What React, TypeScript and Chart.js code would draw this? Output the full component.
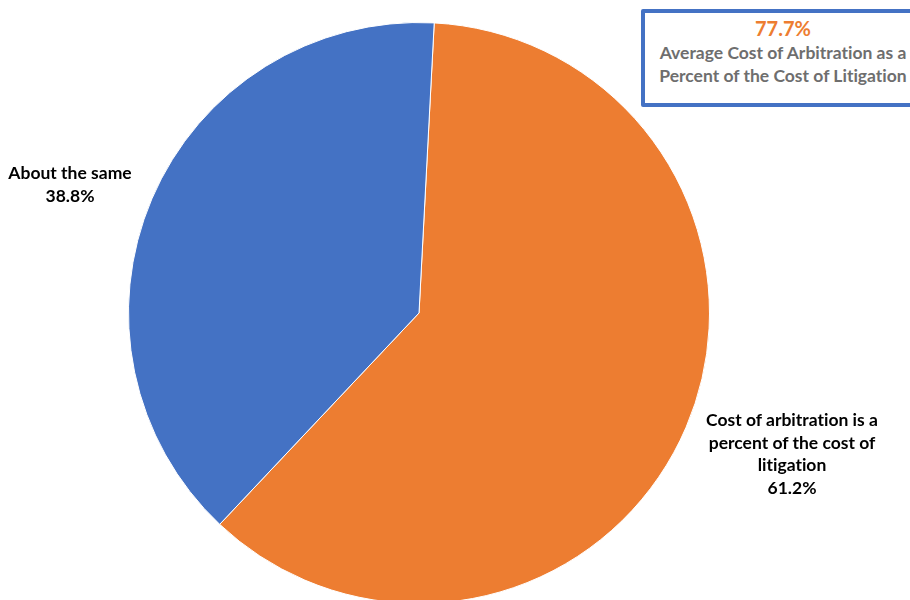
import React, { useEffect, useRef } from "react";
import { Chart, registerables } from "chart.js";

Chart.register(...registerables);

const categories = ["Cost of arbitration is a percent of the cost of litigation", "About the same"];
const values = [61.2, 38.8];
const colors = ["#ED7D31", "#4472C4"];
const calloutValue = "77.7%";
const calloutText = ["Average Cost of Arbitration as a", "Percent of the Cost of Litigation"];
const rightLabelLines = ["Cost of arbitration is a", "percent of the cost of", "litigation"];
const leftLabelLines = ["About the same"];

const FONT = "Lato, 'Open Sans', sans-serif";

export default function App() {
  const ref = useRef<HTMLCanvasElement>(null);
  useEffect(() => {
    if (!ref.current) return;
    const chart = new Chart(ref.current, {
      type: "pie",
      data: {
        labels: categories,
        datasets: [
          {
            data: values,
            backgroundColor: colors,
            borderColor: "#ffffff",
            borderWidth: 1,
          },
        ],
      },
      options: {
        responsive: false,
        animation: false,
        rotation: 3,
        layout: { padding: 0 },
        plugins: { legend: { display: false }, tooltip: { enabled: false } },
      },
    });
    return () => chart.destroy();
  }, []);

  const labelStyle: React.CSSProperties = {
    position: "absolute",
    fontFamily: FONT,
    fontWeight: 700,
    fontSize: 17.5,
    lineHeight: "22.5px",
    textAlign: "center",
    color: "#000",
    whiteSpace: "nowrap",
    fontVariantLigatures: "none",
  };

  return (
    <div
      style={{
        position: "fixed",
        left: 0,
        top: 0,
        width: 910,
        height: 600,
        overflow: "hidden",
        background: "#fff",
      }}
    >
      <canvas
        ref={ref}
        width={582}
        height={582}
        style={{ position: "absolute", left: 128, top: 22, width: 582, height: 582 }}
      />
      <div style={{ ...labelStyle, left: 0, width: 140, top: 162 }}>
        {leftLabelLines.map((l) => (
          <div key={l}>{l}</div>
        ))}
        <div>{values[1].toFixed(1)}%</div>
      </div>
      <div style={{ ...labelStyle, left: 692, width: 200, top: 409 }}>
        {rightLabelLines.map((l) => (
          <div key={l}>{l}</div>
        ))}
        <div>{values[0].toFixed(1)}%</div>
      </div>
      <div
        style={{
          position: "absolute",
          left: 641,
          top: 9,
          width: 276,
          height: 90,
          border: "4px solid #4472C4",
          borderRadius: 2,
          background: "#fff",
          fontFamily: FONT,
          fontWeight: 700,
          textAlign: "center",
          whiteSpace: "nowrap",
          fontVariantLigatures: "none",
        }}
      >
        <div style={{ color: "#ED7D31", fontSize: 20, lineHeight: "28px", marginTop: 1 }}>{calloutValue}</div>
        {calloutText.map((l) => (
          <div key={l} style={{ color: "#6E6E6E", fontSize: 17.5, lineHeight: "22.5px" }}>
            {l}
          </div>
        ))}
      </div>
    </div>
  );
}
